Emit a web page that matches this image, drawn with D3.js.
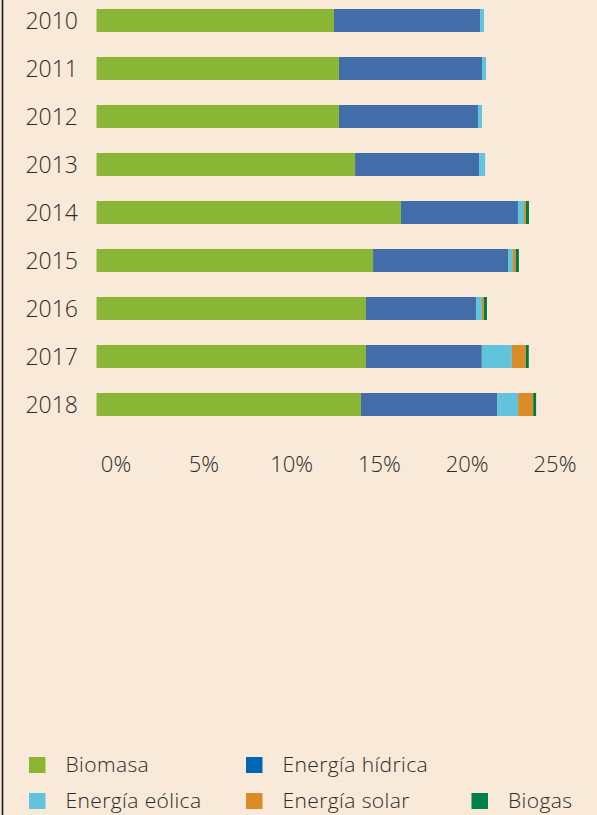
<!DOCTYPE html>
<html><head><meta charset="utf-8">
<script src="https://cdn.jsdelivr.net/npm/d3@7"></script>
<style>
html,body{margin:0;padding:0;background:#F8E9D8;}
svg{display:block;}
text{font-family:"Open Sans",sans-serif;font-weight:300;fill:#2b2b2b;}
</style></head>
<body>
<script>
const years = ["2010","2011","2012","2013","2014","2015","2016","2017","2018"];
const seriesNames = ["Biomasa","Energía hídrica","Energía eólica","Energía solar","Biogas"];
const biomasa = [12.95,13.22,13.22,14.10,16.60,15.08,14.69,14.69,14.42];
const hidrica = [7.96,7.80,7.58,6.76,6.38,7.36,6.00,6.32,7.42];
const eolica  = [0.22,0.22,0.22,0.33,0.33,0.27,0.33,1.64,1.15];
const solar   = [0,0,0,0,0.11,0.16,0.11,0.76,0.82];
const biogas  = [0,0,0,0,0.16,0.16,0.16,0.16,0.16];
const tickValues = [0,5,10,15,20,25];
const barColors = ["#8BB635","#426DA9","#62C3DC","#DB8C29","#007A43"];
const legendColors = ["#8BB635","#0065B2","#62C3DC","#DB8C29","#00804A"];

const W = 597, H = 815;
const svg = d3.select("body").append("svg").attr("width", W).attr("height", H);
svg.append("rect").attr("width", W).attr("height", H).attr("fill", "#F8E9D8");
svg.append("line").attr("x1", 2.5).attr("x2", 2.5).attr("y1", 0).attr("y2", H)
  .attr("stroke", "#1a1a1a").attr("stroke-width", 1.6);

const rows = years.map((y, i) => ({year: y, Biomasa: biomasa[i], "Energía hídrica": hidrica[i],
  "Energía eólica": eolica[i], "Energía solar": solar[i], "Biogas": biogas[i]}));
const stacked = d3.stack().keys(seriesNames)(rows);

const x = d3.scaleLinear().domain([0, 25]).range([96.5, 555]);
const xLabel = d3.scaleLinear().domain([0, 25]).range([116, 555]);
const y = d3.scaleBand().domain(years).range([-3.5, 428.5]).paddingInner(25/48).paddingOuter(25/96);

svg.append("g").selectAll("g").data(stacked).join("g")
  .attr("fill", (d, i) => barColors[i])
  .selectAll("rect").data(d => d).join("rect")
  .attr("x", d => x(d[0])).attr("width", d => Math.max(0, x(d[1]) - x(d[0])))
  .attr("y", d => y(d.data.year)).attr("height", y.bandwidth());

svg.append("g").selectAll("text").data(years).join("text")
  .attr("x", 78).attr("y", d => y(d) + y.bandwidth()/2 + 8.5)
  .attr("text-anchor", "end").style("font-size", "23px").text(d => d);

svg.append("g").selectAll("text").data(tickValues).join("text")
  .attr("x", d => xLabel(d)).attr("y", 471.5)
  .attr("text-anchor", "middle").style("font-size", "22px").text(d => d + "%");

const legendPos = [[29,757],[246,757],[29,793],[246,793],[471.5,793]];
const lg = svg.append("g").selectAll("g").data(seriesNames).join("g")
  .attr("transform", (d, i) => `translate(${legendPos[i][0]},${legendPos[i][1]})`);
lg.append("rect").attr("width", 16.5).attr("height", 16).attr("fill", (d, i) => legendColors[i]);
lg.append("text").attr("x", 36.5).attr("y", 15).style("font-size", "21px")
  .style("letter-spacing", "0.4px").text(d => d);
</script>
</body></html>
